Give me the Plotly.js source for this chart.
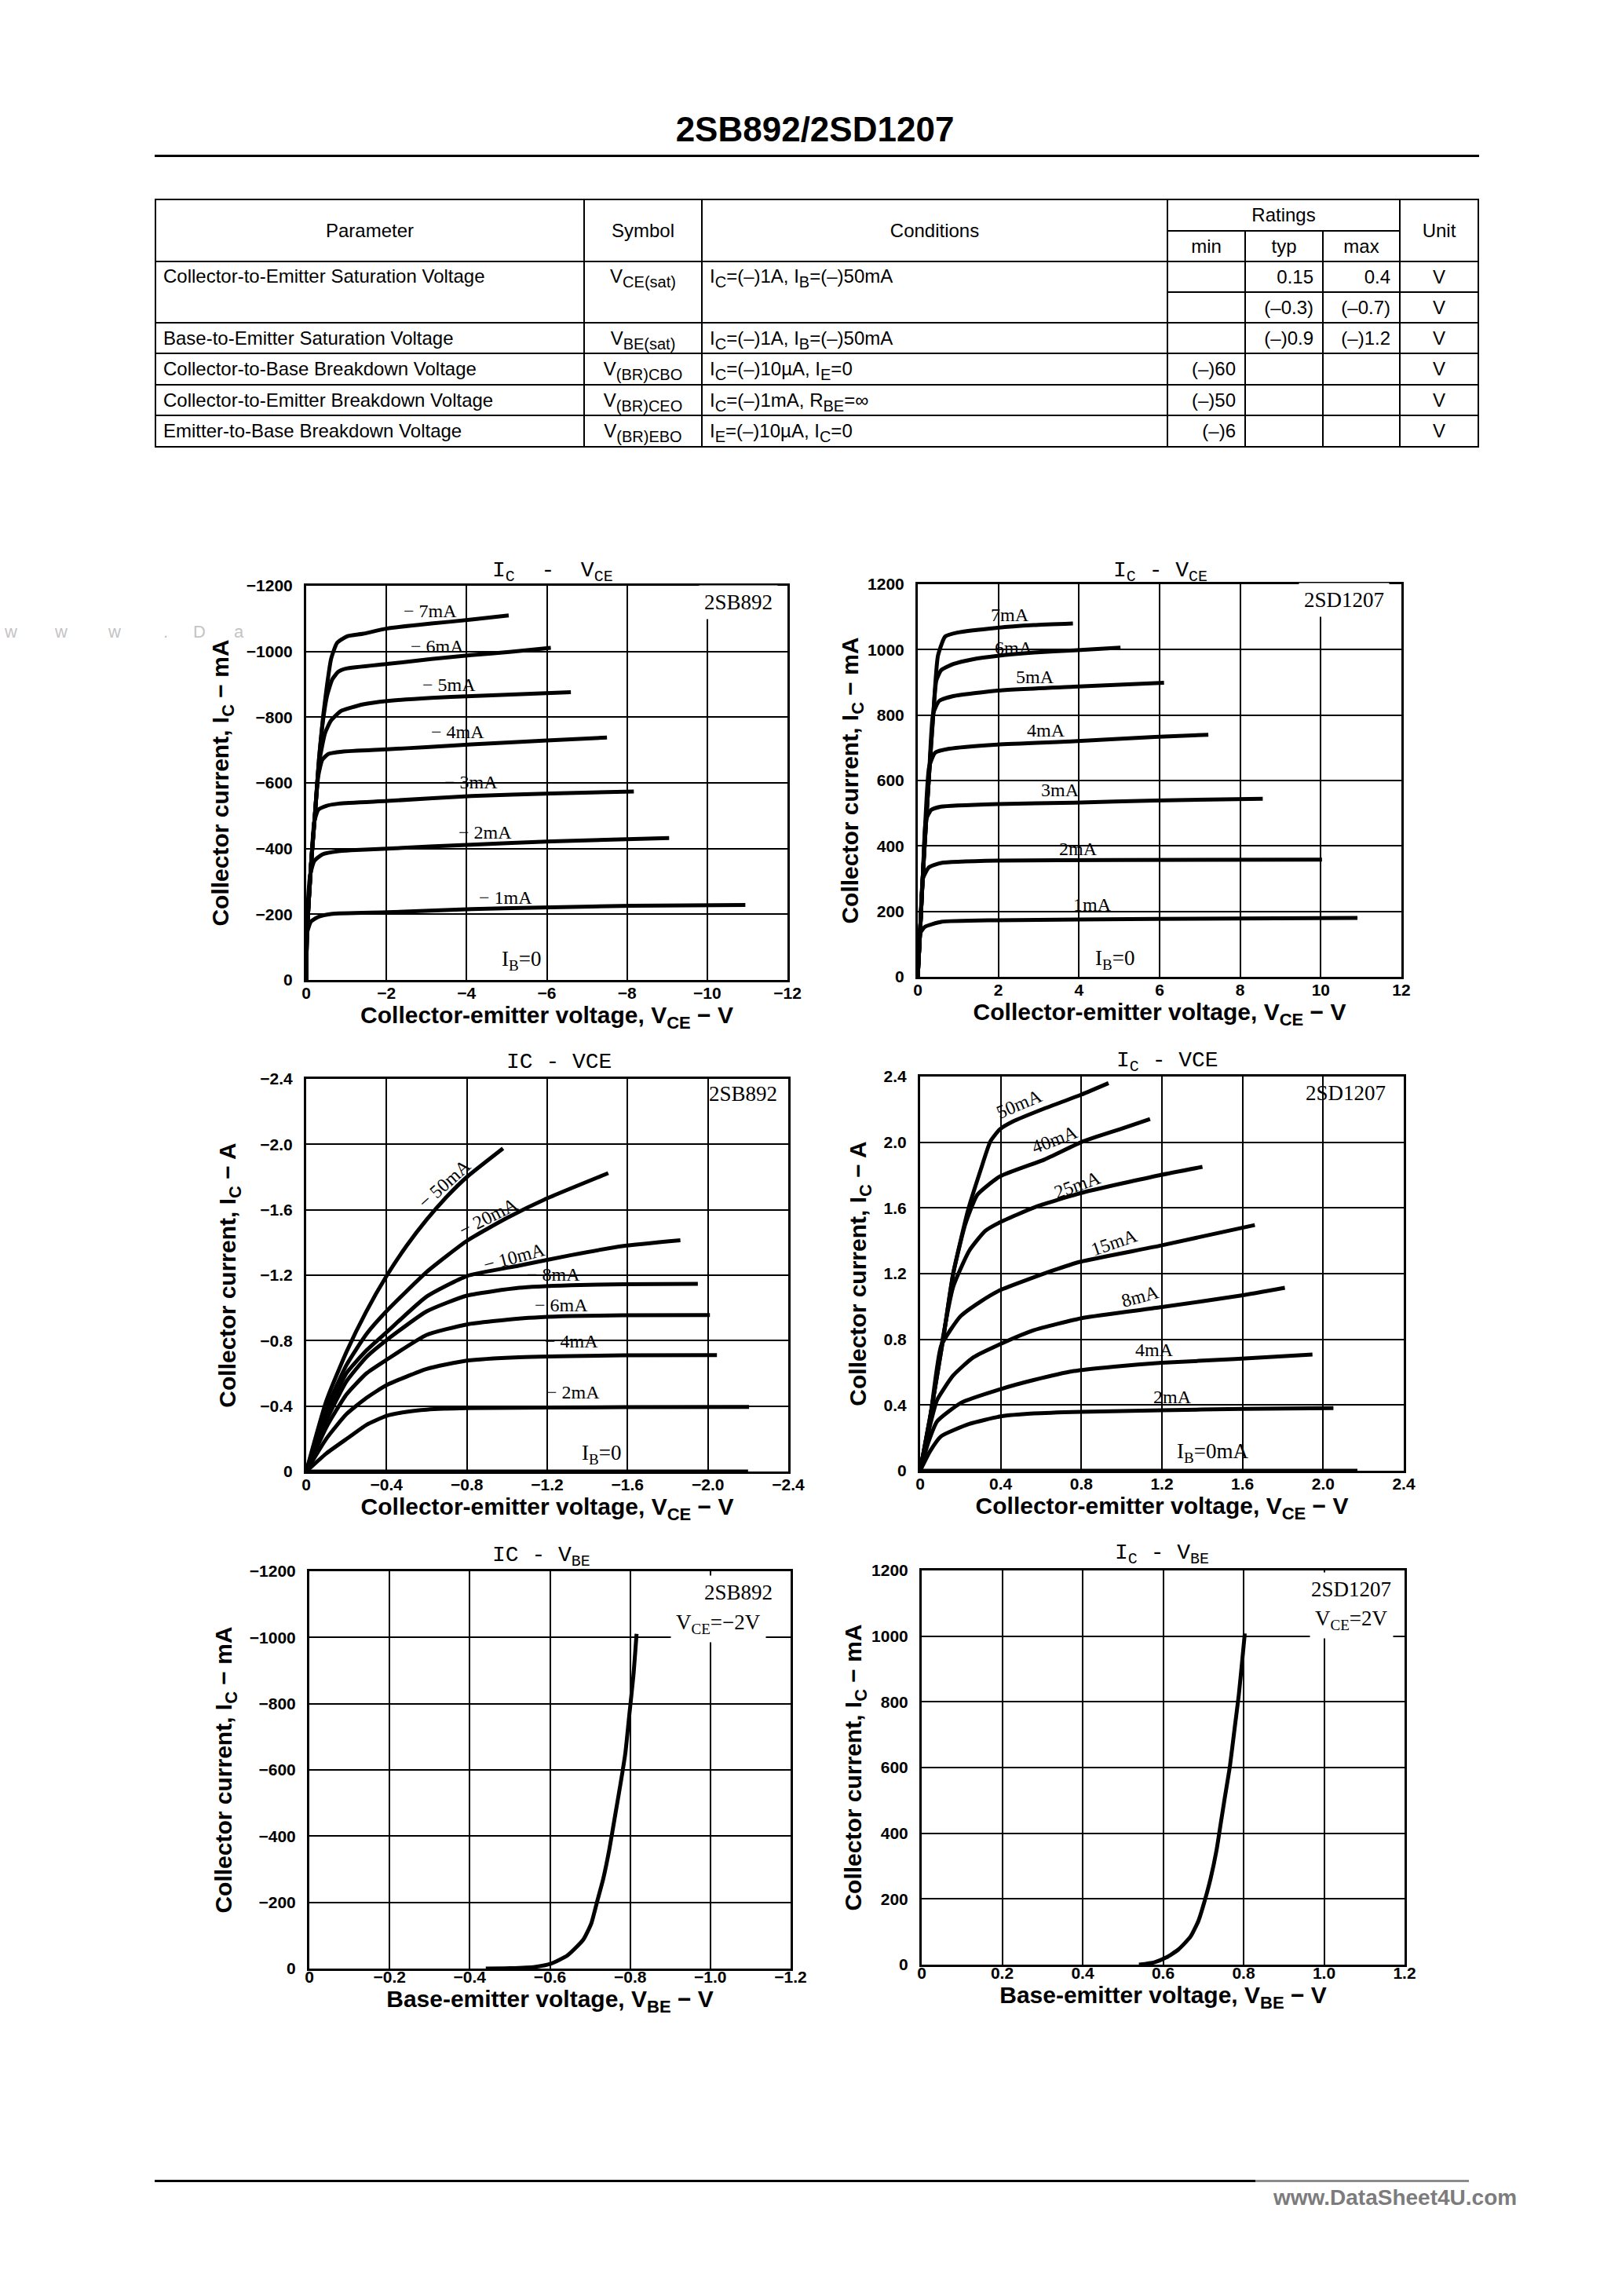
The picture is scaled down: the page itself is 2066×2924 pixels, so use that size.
<!DOCTYPE html>
<html>
<head>
<meta charset="utf-8">
<script src="https://cdn.plot.ly/plotly-3.0.1.min.js"></script>
<style>
html,body{margin:0;padding:0;background:#fff;}
#page{position:relative;width:2066px;height:2924px;overflow:hidden;background:#fff;}
#chart{position:absolute;left:0;top:0;width:2066px;height:2924px;z-index:1;}
.ov{position:absolute;z-index:2;font-family:"Liberation Sans",Arial,sans-serif;color:#000;}
#doctitle{left:0;width:2076px;top:138px;text-align:center;font-weight:bold;line-height:54px;}
#rule{left:197px;top:197px;width:1687px;height:3px;background:#000;}
#tbl{left:197px;top:253px;border-collapse:collapse;table-layout:fixed;}
#tbl td{border:2px solid #000;padding:0 9px;white-space:nowrap;overflow:visible;line-height:26px;}
#tbl sub{vertical-align:-6px;line-height:0;}
#tbl .c{text-align:center;}
#tbl .r{text-align:right;padding-right:11px;}
#tbl .top{vertical-align:top;padding-top:5px;}
#foot1{left:197px;top:2776px;width:1402px;height:3px;background:#000;}
#foot2{left:1599px;top:2776px;width:272px;height:3px;background:#8a8a8a;}
#wm{left:1622px;top:2782px;color:#7c7c7c;font-weight:bold;line-height:34px;z-index:3;}
.lw{position:absolute;z-index:2;font-family:"Liberation Sans",Arial,sans-serif;color:#c4c4c4;}
</style>
</head>
<body>
<div id="page">
  <div id="chart"></div>
  <div class="ov" id="doctitle" style="font-size:44px">2SB892/2SD1207</div>
  <div class="ov" id="rule"></div>
  <table class="ov" id="tbl" style="font-size:24px"></table>
  <div class="ov" id="foot1"></div>
  <div class="ov" id="foot2"></div>
  <div class="ov" id="wm" style="font-size:28px">www.DataSheet4U.com</div>
  <span class="lw" style="left:6px;top:792px;font-size:22px">w</span>
  <span class="lw" style="left:70px;top:792px;font-size:22px">w</span>
  <span class="lw" style="left:138px;top:792px;font-size:22px">w</span>
  <span class="lw" style="left:208px;top:792px;font-size:22px">.</span>
  <span class="lw" style="left:246px;top:792px;font-size:22px">D</span>
  <span class="lw" style="left:298px;top:792px;font-size:22px">a</span>
</div>
<script>
// ---------------- Table data ----------------
const tParams = ['Collector-to-Emitter Saturation Voltage','Base-to-Emitter Saturation Voltage','Collector-to-Base Breakdown Voltage','Collector-to-Emitter Breakdown Voltage','Emitter-to-Base Breakdown Voltage'];
const tSymbols = ['V<sub>CE(sat)</sub>','V<sub>BE(sat)</sub>','V<sub>(BR)CBO</sub>','V<sub>(BR)CEO</sub>','V<sub>(BR)EBO</sub>'];
const tConds = ['I<sub>C</sub>=(–)1A, I<sub>B</sub>=(–)50mA','I<sub>C</sub>=(–)1A, I<sub>B</sub>=(–)50mA','I<sub>C</sub>=(–)10µA, I<sub>E</sub>=0','I<sub>C</sub>=(–)1mA, R<sub>BE</sub>=∞','I<sub>E</sub>=(–)10µA, I<sub>C</sub>=0'];
const tMin = ['','','','(–)60','(–)50','(–)6'];
const tTyp = ['0.15','(–0.3)','(–)0.9','','',''];
const tMax = ['0.4','(–0.7)','(–)1.2','','',''];
const tUnit = ['V','V','V','V','V','V'];

// ---------------- Chart 1: 2SB892 IC-VCE (mA) ----------------
const sb1_m7_v = [0,-0.02,-0.12,-0.22,-0.32,-0.42,-0.52,-0.62,-0.77,-1.02,-1.42,-2.02,-3.12,-4.12,-5.05];
const sb1_m7_i = [0,-142,-349,-506,-673,-800,-898,-977,-1026,-1046,-1054,-1070,-1085,-1097,-1110];
const sb1_m6_v = [0,-0.02,-0.12,-0.22,-0.32,-0.42,-0.52,-0.65,-0.8,-1.0,-2.02,-3.12,-4.12,-5.12,-6.1];
const sb1_m6_i = [0,-142,-349,-506,-673,-790,-865,-915,-938,-948,-962,-977,-989,-999,-1011];
const sb1_m5_v = [0,-0.02,-0.12,-0.22,-0.32,-0.47,-0.62,-0.87,-1.12,-1.42,-2.02,-3.12,-4.12,-5.12,-6.6];
const sb1_m5_i = [0,-142,-349,-506,-660,-751,-790,-819,-829,-839,-849,-859,-864,-869,-876];
const sb1_m4_v = [0,-0.02,-0.12,-0.22,-0.3,-0.4,-0.55,-0.9,-2.02,-3.0,-4.12,-6.0,-7.5];
const sb1_m4_i = [0,-142,-349,-506,-620,-670,-688,-695,-702,-709,-717,-729,-738];
const sb1_m3_v = [0,-0.02,-0.12,-0.2,-0.3,-0.5,-0.82,-2.02,-4.12,-6.12,-8.17];
const sb1_m3_i = [0,-142,-349,-480,-518,-530,-537,-545,-560,-568,-574];
const sb1_m2_v = [0,-0.03,-0.1,-0.2,-0.4,-0.8,-1.12,-2.02,-4.12,-6.12,-9.05];
const sb1_m2_i = [0,-200,-320,-362,-382,-392,-395,-400,-412,-422,-432];
const sb1_m1_v = [0,-0.02,-0.12,-0.3,-0.62,-2.02,-4.12,-6.12,-8.12,-10.95];
const sb1_m1_i = [0,-142,-178,-192,-201,-206,-216,-221,-226,-228];

// ---------------- Chart 2: 2SD1207 IC-VCE (mA) ----------------
const sd2_m7_v = [0,0.06,0.13,0.28,0.38,0.5,0.68,0.98,1.98,2.88,3.85];
const sd2_m7_i = [0,143,320,616,794,981,1040,1052,1067,1075,1080];
const sd2_m6_v = [0,0.06,0.13,0.28,0.38,0.46,0.58,0.88,1.38,1.98,2.88,3.88,5.03];
const sd2_m6_i = [0,143,320,616,794,905,937,956,971,981,991,998,1006];
const sd2_m5_v = [0,0.06,0.13,0.28,0.38,0.53,0.88,1.98,3.88,6.11];
const sd2_m5_i = [0,143,320,616,804,843,858,875,887,899];
const sd2_m4_v = [0,0.06,0.13,0.28,0.43,0.78,1.98,3.88,5.88,7.21];
const sd2_m4_i = [0,143,320,640,685,697,710,720,733,740];
const sd2_m3_v = [0,0.06,0.13,0.2,0.33,0.58,1.98,3.88,5.88,8.56];
const sd2_m3_i = [0,143,320,478,510,520,528,532,539,544];
const sd2_m2_v = [0,0.06,0.13,0.28,0.58,1.98,4.88,10.03];
const sd2_m2_i = [0,143,301,335,348,355,357,358];
const sd2_m1_v = [0,0.06,0.18,0.58,1.98,5.88,10.91];
const sd2_m1_i = [0,133,153,168,173,177,180];

// ---------------- Chart 3: 2SB892 IC-VCE (A) ----------------
const sb3_m50_v = [0,-0.1,-0.2,-0.3,-0.4,-0.5,-0.6,-0.7,-0.8,-0.98];
const sb3_m50_i = [0,-0.43,-0.73,-0.98,-1.195,-1.38,-1.54,-1.68,-1.8,-1.975];
const sb3_m20_v = [0,-0.1,-0.2,-0.3,-0.4,-0.6,-0.8,-1.0,-1.2,-1.504];
const sb3_m20_i = [0,-0.38,-0.65,-0.84,-0.98,-1.22,-1.41,-1.55,-1.67,-1.824];
const sb3_m10_v = [0,-0.1,-0.2,-0.3,-0.4,-0.6,-0.8,-1.06,-1.32,-1.58,-1.863];
const sb3_m10_i = [0,-0.34,-0.6,-0.74,-0.851,-1.07,-1.195,-1.259,-1.323,-1.379,-1.414];
const sb3_m8_v = [0,-0.1,-0.2,-0.3,-0.4,-0.6,-0.8,-1.06,-1.32,-1.58,-1.95];
const sb3_m8_i = [0,-0.31,-0.55,-0.7,-0.803,-0.979,-1.075,-1.123,-1.139,-1.145,-1.147];
const sb3_m6_v = [0,-0.1,-0.2,-0.3,-0.4,-0.6,-0.8,-1.06,-1.32,-1.58,-2.01];
const sb3_m6_i = [0,-0.27,-0.47,-0.6,-0.683,-0.835,-0.899,-0.935,-0.95,-0.955,-0.957];
const sb3_m4_v = [0,-0.1,-0.2,-0.3,-0.4,-0.6,-0.8,-1.06,-1.58,-2.045];
const sb3_m4_i = [0,-0.2,-0.35,-0.45,-0.528,-0.627,-0.678,-0.699,-0.71,-0.712];
const sb3_m2_v = [0,-0.1,-0.215,-0.3,-0.4,-0.5,-0.6,-0.8,-1.58,-2.205];
const sb3_m2_i = [0,-0.11,-0.211,-0.285,-0.34,-0.365,-0.378,-0.387,-0.393,-0.395];
const sb3_m0_v = [0,-2.2];
const sb3_m0_i = [0,0];

// ---------------- Chart 4: 2SD1207 IC-VCE (A) ----------------
const sd4_m50_v = [0,0.05,0.114,0.164,0.239,0.3,0.349,0.395,0.46,0.616,0.8,0.935];
const sd4_m50_i = [0,0.33,0.8,1.2,1.592,1.83,2.006,2.078,2.126,2.205,2.29,2.36];
const sd4_m40_v = [0,0.05,0.114,0.164,0.224,0.284,0.395,0.616,0.81,1.0,1.141];
const sd4_m40_i = [0,0.33,0.8,1.2,1.5,1.68,1.791,1.894,2.006,2.083,2.141];
const sd4_m25_v = [0,0.05,0.1,0.164,0.244,0.323,0.395,0.577,0.81,1.187,1.401];
const sd4_m25_i = [0,0.32,0.72,1.12,1.34,1.46,1.512,1.608,1.695,1.799,1.85];
const sd4_m15_v = [0,0.05,0.104,0.2,0.3,0.395,0.654,0.797,1.187,1.661];
const sd4_m15_i = [0,0.32,0.76,0.94,1.03,1.098,1.217,1.273,1.369,1.496];
const sd4_m8_v = [0,0.05,0.084,0.164,0.264,0.4,0.563,0.81,1.187,1.589,1.81];
const sd4_m8_i = [0,0.28,0.43,0.58,0.69,0.772,0.855,0.931,0.994,1.066,1.114];
const sd4_m4_v = [0,0.04,0.084,0.204,0.4,0.563,0.763,0.962,1.198,1.562,1.947];
const sd4_m4_i = [0,0.17,0.3,0.414,0.497,0.552,0.607,0.634,0.657,0.68,0.708];
const sd4_m2_v = [0,0.05,0.104,0.244,0.4,0.563,0.799,1.198,1.597,2.051];
const sd4_m2_i = [0,0.12,0.21,0.285,0.331,0.349,0.359,0.368,0.377,0.381];
const sd4_m0_v = [0,2.17];
const sd4_m0_i = [0,0];

// ---------------- Chart 5: 2SB892 IC-VBE ----------------
const sb5_vbe = [-0.44,-0.5,-0.562,-0.603,-0.643,-0.683,-0.703,-0.718,-0.733,-0.748,-0.763,-0.778,-0.788,-0.798,-0.808,-0.816];
const sb5_ic  = [0,-1,-5,-15,-39,-87,-136,-204,-272,-360,-466,-573,-651,-768,-884,-1011];

// ---------------- Chart 6: 2SD1207 IC-VBE ----------------
const sd6_vbe = [0.54,0.578,0.608,0.638,0.668,0.688,0.703,0.718,0.733,0.743,0.753,0.766,0.778,0.788,0.796,0.803];
const sd6_ic  = [0,7,22,46,85,134,193,262,350,428,506,604,722,820,918,1008];

// ---------------- Tick labels ----------------
const tkMaNeg = [0,-200,-400,-600,-800,-1000,-1200];
const tkMaNegTxt = ['0','−200','−400','−600','−800','−1000','−1200'];
const tkMaPos = [0,200,400,600,800,1000,1200];
const tkMaPosTxt = ['0','200','400','600','800','1000','1200'];
const tkV12Neg = [0,-2,-4,-6,-8,-10,-12];
const tkV12NegTxt = ['0','−2','−4','−6','−8','−10','−12'];
const tkV12Pos = [0,2,4,6,8,10,12];
const tkV12PosTxt = ['0','2','4','6','8','10','12'];
const tk24Neg = [0,-0.4,-0.8,-1.2,-1.6,-2.0,-2.4];
const tk24NegTxt = ['0','−0.4','−0.8','−1.2','−1.6','−2.0','−2.4'];
const tk24Pos = [0,0.4,0.8,1.2,1.6,2.0,2.4];
const tk24PosTxt = ['0','0.4','0.8','1.2','1.6','2.0','2.4'];
const tk12Neg = [0,-0.2,-0.4,-0.6,-0.8,-1.0,-1.2];
const tk12NegTxt = ['0','−0.2','−0.4','−0.6','−0.8','−1.0','−1.2'];
const tk12Pos = [0,0.2,0.4,0.6,0.8,1.0,1.2];
const tk12PosTxt = ['0','0.2','0.4','0.6','0.8','1.0','1.2'];

// ---------------- Build table ----------------
(function(){
  const widths=[546,150,593,99,99,98,100];
  const rowH=[39,39,39,40,39,40];
  const fs='font-size:24px;';
  const sub='font-size:20px;';
  const fix=s=>s.replace(/<sub>/g,'<sub style="'+sub+'">');
  let h='<colgroup>'+widths.map(w=>'<col style="width:'+w+'px">').join('')+'</colgroup>';
  h+='<tr style="height:40px"><td rowspan="2" class="c" style="'+fs+'">Parameter</td><td rowspan="2" class="c" style="'+fs+'">Symbol</td><td rowspan="2" class="c" style="'+fs+'">Conditions</td><td colspan="3" class="c" style="'+fs+'">Ratings</td><td rowspan="2" class="c" style="'+fs+'">Unit</td></tr>';
  h+='<tr style="height:39px"><td class="c" style="'+fs+'">min</td><td class="c" style="'+fs+'">typ</td><td class="c" style="'+fs+'">max</td></tr>';
  for(let r=0;r<6;r++){
    h+='<tr style="height:'+rowH[r]+'px">';
    if(r===0){
      h+='<td rowspan="2" class="top" style="'+fs+'">'+tParams[0]+'</td><td rowspan="2" class="c top" style="'+fs+'">'+fix(tSymbols[0])+'</td><td rowspan="2" class="top" style="'+fs+'">'+fix(tConds[0])+'</td>';
    } else if(r>1){
      h+='<td style="'+fs+'">'+tParams[r-1]+'</td><td class="c" style="'+fs+'">'+fix(tSymbols[r-1])+'</td><td style="'+fs+'">'+fix(tConds[r-1])+'</td>';
    }
    h+='<td class="r" style="'+fs+'">'+tMin[r]+'</td><td class="r" style="'+fs+'">'+tTyp[r]+'</td><td class="r" style="'+fs+'">'+tMax[r]+'</td><td class="c" style="'+fs+'">'+tUnit[r]+'</td></tr>';
  }
  document.getElementById('tbl').innerHTML=h;
})();

// ---------------- Plotly figure ----------------
const W=2066, H=2924;
const boxes = {
  1:[390,746,1003,1248],
  2:[1169,744,1785,1244],
  3:[390,1374,1004,1874],
  4:[1172,1371,1788,1873],
  5:[394,2001,1007,2507],
  6:[1174,2000,1789,2502]
};
const AXF = 'Liberation Sans, Arial, sans-serif';
const SERIF = 'Liberation Serif, Times New Roman, serif';
const MONO = 'Liberation Mono, Courier New, monospace';

// subscript as a sized, baseline-shifted span
function sb(t, px, shift){ return '<span style="font-size:'+px+'px;baseline-shift:-'+shift+'px">'+t+'</span>'; }

function xAx(n, rng, tv, tt, title, lblOff, standoff){
  const b=boxes[n];
  return {domain:[b[0]/W, b[2]/W], range:rng, anchor:'y'+(n===1?'':n), tickmode:'array', tickvals:tv, ticktext:tt,
    showgrid:true, gridcolor:'#000', gridwidth:2, showline:true, mirror:true, linecolor:'#000', linewidth:3,
    zeroline:false, ticks:'', ticklabelstandoff:lblOff, tickfont:{family:AXF,size:21,color:'#000',weight:'bold'},
    title:{text:title, font:{family:AXF,size:30,color:'#000',weight:'bold'}, standoff:standoff}, fixedrange:true};
}
function yAx(n, rng, tv, tt, title, standoff){
  const b=boxes[n];
  return {domain:[1-b[3]/H, 1-b[1]/H], range:rng, anchor:'x'+(n===1?'':n), tickmode:'array', tickvals:tv, ticktext:tt,
    showgrid:true, gridcolor:'#000', gridwidth:2, showline:true, mirror:true, linecolor:'#000', linewidth:3,
    zeroline:false, ticks:'', ticklabelstandoff:10, tickfont:{family:AXF,size:21,color:'#000',weight:'bold'},
    title:{text:title, font:{family:AXF,size:30,color:'#000',weight:'bold'}, standoff:standoff}, fixedrange:true};
}

const traces=[];
function curve(xs, ys, n, name){
  const s = n===1?'':n;
  traces.push({x:xs, y:ys, xaxis:'x'+s, yaxis:'y'+s, type:'scatter', mode:'lines', name:name,
    line:{color:'#000', width:5, shape:'spline', smoothing:0.5}, showlegend:false, hoverinfo:'skip'});
}
curve(sb1_m7_v, sb1_m7_i, 1, 'IB=-7mA');
curve(sb1_m6_v, sb1_m6_i, 1, 'IB=-6mA');
curve(sb1_m5_v, sb1_m5_i, 1, 'IB=-5mA');
curve(sb1_m4_v, sb1_m4_i, 1, 'IB=-4mA');
curve(sb1_m3_v, sb1_m3_i, 1, 'IB=-3mA');
curve(sb1_m2_v, sb1_m2_i, 1, 'IB=-2mA');
curve(sb1_m1_v, sb1_m1_i, 1, 'IB=-1mA');

curve(sd2_m7_v, sd2_m7_i, 2, 'IB=7mA');
curve(sd2_m6_v, sd2_m6_i, 2, 'IB=6mA');
curve(sd2_m5_v, sd2_m5_i, 2, 'IB=5mA');
curve(sd2_m4_v, sd2_m4_i, 2, 'IB=4mA');
curve(sd2_m3_v, sd2_m3_i, 2, 'IB=3mA');
curve(sd2_m2_v, sd2_m2_i, 2, 'IB=2mA');
curve(sd2_m1_v, sd2_m1_i, 2, 'IB=1mA');

curve(sb3_m50_v, sb3_m50_i, 3, 'IB=-50mA');
curve(sb3_m20_v, sb3_m20_i, 3, 'IB=-20mA');
curve(sb3_m10_v, sb3_m10_i, 3, 'IB=-10mA');
curve(sb3_m8_v, sb3_m8_i, 3, 'IB=-8mA');
curve(sb3_m6_v, sb3_m6_i, 3, 'IB=-6mA');
curve(sb3_m4_v, sb3_m4_i, 3, 'IB=-4mA');
curve(sb3_m2_v, sb3_m2_i, 3, 'IB=-2mA');
curve(sb3_m0_v, sb3_m0_i, 3, 'IB=0');

curve(sd4_m50_v, sd4_m50_i, 4, 'IB=50mA');
curve(sd4_m40_v, sd4_m40_i, 4, 'IB=40mA');
curve(sd4_m25_v, sd4_m25_i, 4, 'IB=25mA');
curve(sd4_m15_v, sd4_m15_i, 4, 'IB=15mA');
curve(sd4_m8_v, sd4_m8_i, 4, 'IB=8mA');
curve(sd4_m4_v, sd4_m4_i, 4, 'IB=4mA');
curve(sd4_m2_v, sd4_m2_i, 4, 'IB=2mA');
curve(sd4_m0_v, sd4_m0_i, 4, 'IB=0mA');

curve(sb5_vbe, sb5_ic, 5, 'VCE=-2V');
curve(sd6_vbe, sd6_ic, 6, 'VCE=2V');

const ann=[];
function lab(n, text, x, y, size, angle, font, bg){
  const s = n===1?'':n;
  ann.push({xref:'x'+s, yref:'y'+s, x:x, y:y, text:text, showarrow:false, textangle:angle||0,
    font:{family:font||SERIF, size:size||24, color:'#000'}, xanchor:'center', yanchor:'middle',
    bgcolor: bg?'#fff':'rgba(0,0,0,0)', borderpad: bg?6:0});
}
function ptitle(text, xpx, ypx){
  ann.push({xref:'paper', yref:'paper', x:xpx/W, y:1-ypx/H, text:text, showarrow:false,
    font:{family:MONO, size:28, color:'#000'}, xanchor:'center', yanchor:'middle'});
}
const tC = sb('C',20,6), tCE = sb('CE',20,6), tBE = sb('BE',20,6);
const lB = sb('B',19,6), lCE = sb('CE',19,6);
const aC = sb('C',22,7), aCE = sb('CE',22,7), aBE = sb('BE',22,7);

// chart titles
ptitle('I'+tC+'  -  V'+tCE, 704, 729);
ptitle('I'+tC+' - V'+tCE, 1478, 729);
ptitle('IC - VCE', 712, 1352);
ptitle('I'+tC+' - VCE', 1487, 1352);
ptitle('IC - V'+tBE, 689, 1982);
ptitle('I'+tC+' - V'+tBE, 1480, 1980);

// chart 1 labels
lab(1,'− 7mA',-3.1,-1124); lab(1,'− 6mA',-3.27,-1016); lab(1,'− 5mA',-3.57,-898);
lab(1,'− 4mA',-3.77,-756); lab(1,'− 3mA',-4.12,-602); lab(1,'− 2mA',-4.47,-449);
lab(1,'− 1mA',-4.97,-252); lab(1,'I'+lB+'=0',-5.37,-59,27);
lab(1,'2SB892',-10.77,-1149,27,0,SERIF,true);
// chart 2 labels
lab(2,'7mA',2.28,1106); lab(2,'6mA',2.38,1006); lab(2,'5mA',2.91,917); lab(2,'4mA',3.18,754);
lab(2,'3mA',3.53,572); lab(2,'2mA',3.98,391); lab(2,'1mA',4.33,222); lab(2,'I'+lB+'=0',4.88,54,27);
lab(2,'2SD1207',10.58,1151,27,0,SERIF,true);
// chart 3 labels
lab(3,'− 50mA',-0.686,-1.759,24,-42); lab(3,'− 20mA',-0.906,-1.556,24,-27); lab(3,'− 10mA',-1.036,-1.312,24,-15);
lab(3,'− 8mA',-1.231,-1.203); lab(3,'− 6mA',-1.27,-1.019); lab(3,'− 4mA',-1.323,-0.795);
lab(3,'− 2mA',-1.329,-0.483); lab(3,'I'+lB+'=0',-1.468,-0.107,27);
lab(3,'2SB892',-2.175,-2.308,27);
// chart 4 labels
lab(4,'50mA',0.492,2.232,24,-23); lab(4,'40mA',0.67,2.019,24,-21); lab(4,'25mA',0.78,1.74,24,-20);
lab(4,'15mA',0.966,1.39,24,-19); lab(4,'8mA',1.092,1.063,24,-15); lab(4,'4mA',1.162,0.736);
lab(4,'2mA',1.252,0.451); lab(4,'I'+lB+'=0mA',1.452,0.11,27);
lab(4,'2SD1207',2.11,2.299,27);
// chart 5 labels
lab(5,'2SB892',-1.07,-1137,27,0,SERIF,true);
lab(5,'V'+lCE+'=−2V',-1.02,-1040,27,0,SERIF,true);
// chart 6 labels
lab(6,'2SD1207',1.068,1143,27,0,SERIF,true);
lab(6,'V'+lCE+'=2V',1.068,1050,27,0,SERIF,true);

const tVce = 'Collector-emitter voltage, V'+aCE+' − V';
const tVbe = 'Base-emitter voltage, V'+aBE+' − V';
const tImA = 'Collector current, I'+aC+' − mA';
const tIA  = 'Collector current, I'+aC+' − A';

const layout = {
  width:W, height:H, margin:{l:0,r:0,t:0,b:0}, paper_bgcolor:'rgba(0,0,0,0)', plot_bgcolor:'#fff',
  showlegend:false, annotations:ann,
  xaxis:  xAx(1,[0,-12],tkV12Neg,tkV12NegTxt,tVce,-4,4),
  yaxis:  yAx(1,[0,-1200],tkMaNeg,tkMaNegTxt,tImA,14),
  xaxis2: xAx(2,[0,12],tkV12Pos,tkV12PosTxt,tVce,-4,4),
  yaxis2: yAx(2,[0,1200],tkMaPos,tkMaPosTxt,tImA,1),
  xaxis3: xAx(3,[0,-2.4],tk24Neg,tk24NegTxt,tVce,-4,4),
  yaxis3: yAx(3,[0,-2.4],tk24Neg,tk24NegTxt,tIA,22),
  xaxis4: xAx(4,[0,2.4],tk24Pos,tk24PosTxt,tVce,-4,4),
  yaxis4: yAx(4,[0,2.4],tk24Pos,tk24PosTxt,tIA,14),
  xaxis5: xAx(5,[0,-1.2],tk12Neg,tk12NegTxt,tVbe,-10,1),
  yaxis5: yAx(5,[0,-1200],tkMaNeg,tkMaNegTxt,tImA,14),
  xaxis6: xAx(6,[0,1.2],tk12Pos,tk12PosTxt,tVbe,-10,1),
  yaxis6: yAx(6,[0,1200],tkMaPos,tkMaPosTxt,tImA,4)
};
Plotly.newPlot('chart', traces, layout, {displayModeBar:false, staticPlot:true});
</script>
</body>
</html>
